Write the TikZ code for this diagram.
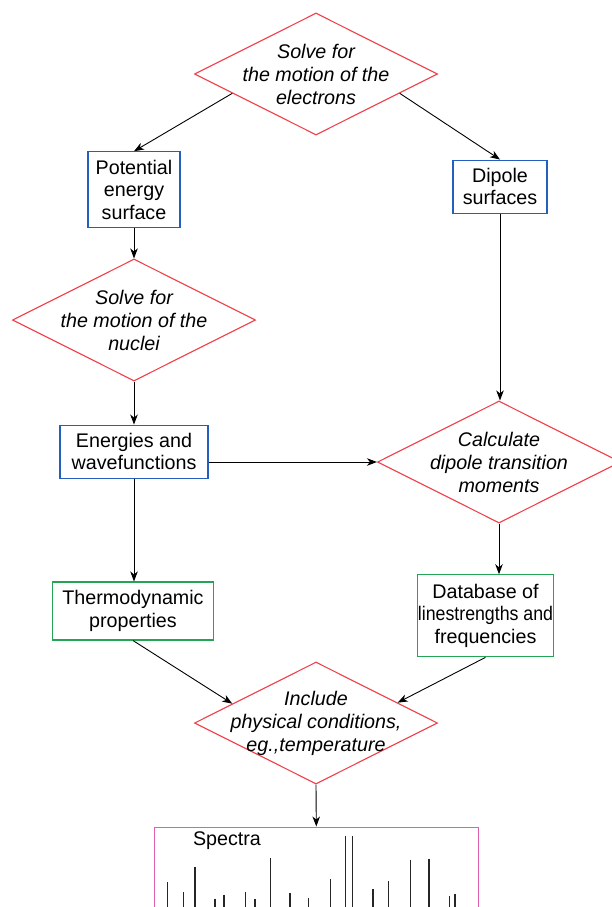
\documentclass[tikz,border=0pt]{standalone}
\usepackage{fontspec}
\setmainfont{Liberation Sans}
\usetikzlibrary{shapes.geometric,arrows.meta}
\definecolor{redc}{RGB}{240,62,72}
\definecolor{bluec}{RGB}{35,95,190}
\definecolor{greenc}{RGB}{35,165,85}
\definecolor{pinkc}{RGB}{225,95,175}
\tikzset{
  txt/.style={font=\fontsize{19.7}{22.5}\selectfont, align=center},
  dia/.style={txt, shape=diamond, aspect=2, draw=redc, line width=1.1pt, minimum width=243pt,
    minimum height=122pt, inner sep=-20pt, font=\fontsize{19.7}{23}\selectfont\itshape},
  bbox/.style={txt, draw=bluec, line width=1.1pt, inner sep=0pt},
  gbox/.style={txt, draw=greenc, line width=1.1pt, inner sep=0pt},
  conn/.style={line width=0.9pt, -{Stealth[length=10pt,width=7.5pt,inset=3pt]}},
  specline/.style={line width=1.1pt, draw=black!85}
}
\begin{document}
\begin{tikzpicture}[x=1pt,y=-1pt]
\useasboundingbox (0,0) rectangle (612,907);
% diamonds
\node[dia] (d1) at (316,74) {Solve for\\the motion of the\\electrons};
\node[dia] (d2) at (134,320) {Solve for\\the motion of the\\nuclei};
\node[dia] (d3) at (499,462) {Calculate\\dipole transition\\moments};
\node[dia] (d4) at (316,723) {Include\\physical conditions,\\eg.,temperature};
% boxes
\node[bbox, minimum width=92pt, minimum height=76pt] (pes) at (134,189.8) {Potential\\energy\\surface};
\node[bbox, minimum width=94pt, minimum height=53pt] (dp) at (500,186.6) {Dipole\\surfaces};
\node[bbox, minimum width=148pt, minimum height=53pt] (en) at (134,451.6) {Energies and\\wavefunctions};
\node[gbox, minimum width=161pt, minimum height=58pt] (th) at (133,611) {Thermodynamic\\properties};
\node[gbox, minimum width=136pt, minimum height=82pt] (db) at (485.5,615.8) {Database of\\\scalebox{0.9}[1]{linestrengths and}\\frequencies};
% spectra box
\node[draw=pinkc, line width=1.1pt, minimum width=324.5pt, minimum height=100pt, inner sep=0pt, anchor=north] (sp) at (316.3,826.5) {};
\node[txt, anchor=center] (spt) at (227,841) {Spectra};
% connectors
\draw[conn] (d1.193) -- (pes.north);
\draw[conn] (d1.347) -- (dp.north);
\draw[conn] (pes.south) -- (d2.north);
\draw[conn] (d2.south) -- (en.north);
\draw[conn] (dp.south) -- (dp.south |- d3.north);
\draw[conn] (en.east |- d3.west) -- (d3.west);
\draw[conn] (en.south) -- (en.south |- th.north);
\draw[conn] (d3.south) -- (d3.south |- db.north);
\draw[conn] (th.south) -- (d4.167);
\draw[conn] (db.south) -- (d4.14);
\draw[conn] (d4.south) -- (sp.north);
% spectral lines
\foreach \x/\y in {167.3/882.3, 183.7/892.3, 215/898.7, 224/894.7, 245.7/892.3, 255/899.3,
  270.7/858.3, 290/893.3, 308.3/897.7, 330.7/879.3, 345.7/835.7, 352.3/835.7, 373/889.3,
  388.7/881.3, 410.7/860.3, 429/858.7, 449.7/896, 455/893.7}
  \draw[specline] (\x,\y) -- (\x,912);
\draw[specline, line width=1.8pt] (195,867.3) -- (195,912);
\end{tikzpicture}
\end{document}
